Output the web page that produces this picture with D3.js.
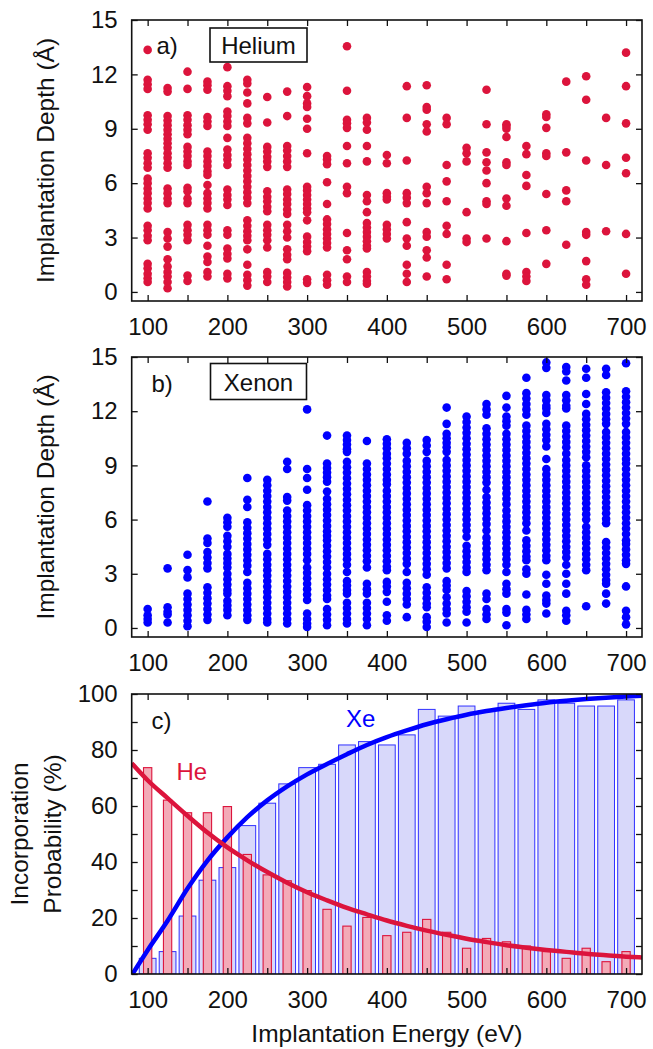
<!DOCTYPE html>
<html>
<head>
<meta charset="utf-8">
<script src="https://cdn.jsdelivr.net/npm/d3@7"></script>
<style>
  body { margin: 0; background: #fff; }
  svg { display: block; }
  text { font-family: "Liberation Sans", Arial, Helvetica, sans-serif; fill: #111; }
</style>
</head>
<body>
<svg id="fig" width="653" height="1049"></svg>
<script>
// Implantation energies (eV), one column of simulated impacts per energy
const energies = [100,125,150,175,200,225,250,275,300,325,350,375,400,425,450,475,500,525,550,575,600,625,650,675,700];

// Final depth (Å) of every incorporated He atom, grouped by energy
const heliumDepths = [
  [13.35,11.7,11.45,11.2,9.75,9.5,9.25,8.95,7.65,7.4,7.1,6.85,6.25,6.0,5.7,5.45,5.15,4.9,4.6,3.65,3.4,3.1,2.85,1.55,1.3,1.0,0.75,0.55],
  [11.25,11.05,9.7,9.45,9.2,8.95,8.7,8.45,8.2,7.95,7.65,7.4,7.1,6.85,5.7,5.45,5.15,4.9,3.3,2.95,2.5,1.8,1.4,1.1,0.85,0.55,0.2],
  [12.15,11.2,9.75,9.5,9.2,8.95,8.7,8.0,7.75,7.5,7.2,7.0,5.75,5.55,5.15,4.9,3.7,3.4,3.15,2.85,0.9,0.6],
  [11.6,11.4,11.15,9.65,9.4,9.15,7.75,7.5,7.2,6.95,6.65,6.45,5.9,5.45,5.15,4.9,4.6,3.7,3.4,3.15,2.55,1.95,1.65,1.1,0.85],
  [12.4,11.35,11.1,10.8,9.95,9.7,9.4,9.15,8.5,7.85,7.55,7.3,7.0,5.65,5.35,5.1,4.8,3.4,3.15,2.4,2.1,1.85,1.0,0.75],
  [11.7,11.5,11.0,10.4,9.6,9.3,8.5,8.2,7.9,7.6,7.3,7.0,6.7,6.4,6.1,5.8,5.5,5.2,4.9,3.95,3.65,3.35,3.1,2.85,2.35,1.5,0.95,0.65,0.35],
  [10.75,9.35,8.0,7.75,7.45,7.2,6.9,5.55,5.25,5.0,4.7,4.45,3.7,3.4,3.15,2.85,2.45,1.1,0.85,0.55],
  [11.05,9.7,8.05,7.8,7.5,7.2,6.9,5.65,5.4,5.1,4.85,4.55,4.3,3.7,3.35,3.0,2.35,2.05,1.8,1.05,0.8,0.55,0.3],
  [11.3,10.8,10.4,10.2,9.55,9.0,7.65,5.8,5.6,5.35,5.1,4.85,4.6,4.4,3.95,3.05,2.75,2.5,2.25,0.7,0.5],
  [7.5,7.3,7.05,6.05,4.85,4.0,3.75,3.45,3.2,2.95,2.7,2.45,0.95,0.65,0.4],
  [13.55,11.1,9.5,9.3,9.05,8.05,7.1,5.8,5.45,3.25,2.3,1.8,0.85,0.55],
  [9.6,9.35,8.95,8.05,7.2,5.35,5.0,4.4,3.8,3.55,3.3,3.05,2.8,2.55,2.4,1.1,0.85,0.6,0.45],
  [7.55,7.1,5.45,5.25,5.1,3.7,3.45,3.2,2.95],
  [11.35,9.6,7.25,5.45,5.2,4.9,3.85,2.95,2.55,1.5,1.0,0.55],
  [11.4,10.2,10.05,9.25,8.85,5.8,5.45,4.9,3.3,3.05,2.3,1.9,0.85],
  [9.6,9.25,7.0,6.1,5.0,3.65,3.2,1.5,0.7],
  [7.95,7.65,7.2,4.4,2.95,2.75],
  [11.15,9.25,7.7,7.15,6.7,6.0,5.0,4.85,2.95],
  [9.25,9.15,9.0,8.55,7.15,7.0,5.15,4.75,2.8,1.0,0.9],
  [8.05,7.6,6.45,5.85,3.25,1.1,0.85,0.6],
  [9.8,9.65,9.05,7.65,7.5,5.4,3.4,1.55],
  [11.6,7.7,5.6,5.0,2.6],
  [11.9,10.6,7.25,3.3,3.15,1.7,0.7,0.4],
  [9.6,7.0,3.35],
  [13.2,11.35,9.3,7.4,6.55,3.2,1.0]
];

// Final depth (Å) of every incorporated Xe atom, grouped by energy
const xenonDepths = [
  [1.05,0.7,0.5,0.3],
  [3.3,1.15,0.9,0.75,0.3],
  [4.05,3.2,2.8,1.9,1.6,1.3,1.0,0.7,0.4,0.1],
  [7.0,4.95,4.7,4.2,3.9,3.6,3.3,2.25,1.95,1.65,1.35,1.05,0.75,0.45],
  [6.1,5.85,5.6,5.1,4.8,4.5,4.1,3.85,3.6,3.35,3.0,2.7,2.4,2.1,1.9,1.5,1.25,1.0,0.7],
  [8.3,7.1,6.7,5.85,5.55,5.25,4.95,4.65,4.35,4.05,3.75,3.45,3.1,2.5,2.2,1.9,1.6,1.3,1.0,0.7,0.45],
  [8.2,7.9,7.6,7.3,7.0,6.7,6.4,6.1,5.8,5.5,5.2,4.9,4.6,4.1,3.8,3.5,3.2,2.9,2.6,2.3,2.0,1.7,1.4,1.1,0.8,0.5,0.3],
  [9.2,8.8,7.25,7.05,6.5,6.2,5.9,5.6,5.3,5.0,4.7,4.4,4.1,3.8,3.5,3.2,2.9,2.6,2.3,2.0,1.7,1.4,1.1,0.8,0.5,0.25],
  [12.1,8.8,8.3,7.65,6.8,6.5,6.2,5.9,5.6,5.3,5.0,4.7,4.4,4.1,3.75,3.35,3.05,2.75,2.45,2.15,1.85,1.55,0.8,0.5,0.25,0.05],
  [10.65,9.1,8.85,8.6,8.35,8.1,7.55,7.15,6.85,6.55,6.25,5.95,5.65,5.35,5.1,4.85,4.55,4.25,3.95,3.65,3.35,3.0,2.7,2.4,2.1,1.8,1.6,1.05,0.75,0.45,0.15],
  [10.65,10.4,10.15,9.9,9.75,9.2,8.9,8.6,8.3,8.0,7.7,7.4,7.1,6.8,6.5,6.2,5.9,5.6,5.3,5.0,4.7,4.4,4.1,3.8,3.5,3.1,2.6,2.35,2.1,1.9,1.4,1.1,0.8,0.5,0.25],
  [10.35,9.1,8.8,8.5,8.2,7.9,7.6,7.3,7.0,6.7,6.4,6.1,5.8,5.5,5.2,4.9,4.6,4.3,4.0,3.7,3.35,2.45,2.15,1.9,1.4,1.1,0.8,0.5,0.15],
  [10.45,10.2,9.95,9.65,9.4,9.1,8.8,8.5,8.2,7.95,7.6,7.3,7.0,6.7,6.4,6.1,5.8,5.5,5.2,4.9,4.6,4.3,4.0,3.7,3.4,3.2,2.55,2.3,2.0,1.45,0.7,0.4],
  [10.25,9.95,9.65,9.25,8.95,8.65,8.35,8.05,7.75,7.45,7.15,6.85,6.55,6.25,5.95,5.65,5.35,5.05,4.75,4.45,4.15,3.85,3.55,3.1,2.5,2.2,1.9,1.6,1.3,0.6],
  [10.4,10.1,9.75,9.25,8.95,8.65,8.35,8.05,7.75,7.45,7.15,6.85,6.55,6.25,5.95,5.65,5.35,5.05,4.75,4.45,4.15,3.85,3.55,3.25,2.95,2.25,1.95,1.65,1.35,1.15,0.6,0.35,0.05],
  [12.2,11.3,10.75,10.5,10.25,10.0,9.75,9.3,9.0,8.7,8.4,8.1,7.8,7.5,7.2,6.9,6.6,6.3,6.0,5.7,5.4,5.1,4.8,4.5,4.2,3.9,3.6,3.3,2.6,2.35,2.1,1.7,1.35,1.05,0.8,0.3],
  [11.7,11.4,11.1,10.8,10.5,10.2,9.9,9.6,9.3,9.0,8.7,8.4,8.1,7.8,7.5,7.2,6.9,6.6,6.3,6.0,5.7,5.4,5.05,4.55,4.25,3.95,3.65,3.35,3.1,2.05,1.75,1.45,1.15,0.9,0.3],
  [12.4,12.1,11.8,11.05,10.75,10.45,10.15,9.85,9.55,9.25,8.95,8.65,8.35,8.05,7.65,7.25,6.95,6.65,6.35,6.05,5.75,5.4,5.0,4.7,4.4,4.1,3.8,3.5,3.2,1.9,1.6,1.05,0.75,0.5],
  [12.85,12.2,11.7,11.45,11.2,10.75,10.45,10.15,9.85,9.55,9.25,8.95,8.65,8.35,8.05,7.75,7.45,7.15,6.85,6.5,6.2,5.9,5.6,5.3,5.0,4.7,4.4,4.1,3.8,3.5,3.1,2.45,2.15,1.9,1.05,0.85,0.15],
  [13.85,13.0,12.7,12.4,12.1,11.8,11.2,10.9,10.6,10.3,10.0,9.7,9.4,9.1,8.8,8.5,8.2,7.9,7.6,7.3,7.0,6.7,6.4,6.1,5.8,5.4,4.85,4.55,4.25,3.95,3.75,3.25,3.0,1.85,1.0,0.75,0.5],
  [14.7,14.4,12.9,12.6,12.3,12.15,11.9,11.3,11.0,10.7,10.4,10.05,9.35,8.8,8.5,8.2,7.9,7.6,7.3,7.0,6.7,6.4,6.1,5.8,5.5,5.2,4.9,4.6,4.3,4.0,3.75,2.95,2.45,1.8,1.55,1.35,0.8],
  [14.45,14.2,13.7,12.9,12.6,12.3,12.15,11.2,10.9,10.6,10.3,10.0,9.65,9.3,9.0,8.7,8.4,8.1,7.8,7.5,7.2,6.9,6.6,6.3,6.0,5.7,5.4,5.1,4.8,4.5,4.2,3.9,3.5,3.0,2.45,1.9,0.95,0.7,0.4],
  [14.35,13.85,12.95,12.4,11.85,11.55,11.25,10.95,10.65,10.35,10.05,9.75,9.45,9.0,8.7,8.4,8.1,7.8,7.5,7.2,6.9,6.6,6.3,6.0,5.6,5.3,5.0,4.7,4.4,4.1,3.8,3.5,3.2,1.2],
  [14.35,14.0,13.05,12.75,12.45,12.15,11.85,11.55,11.3,10.85,10.55,10.25,9.95,9.65,9.35,9.05,8.75,8.45,8.15,7.85,7.55,7.25,6.95,6.65,6.35,6.05,5.8,4.75,4.45,4.15,3.85,3.55,3.25,2.95,2.65,2.45,1.9,1.35],
  [14.65,13.1,12.8,12.5,12.2,11.9,11.6,11.3,10.85,10.55,10.25,9.95,9.65,9.35,9.1,8.8,8.5,8.2,7.9,7.6,7.3,7.0,6.7,6.4,6.1,5.8,5.5,5.2,4.85,4.65,4.35,4.05,3.75,3.55,2.3,0.95,0.6,0.2]
];

// Incorporation probability (%) per energy
const xeProbability = [5.6,8.0,20.7,33.5,38.0,53.0,61.0,67.9,73.7,74.9,81.8,83.0,81.8,85.4,94.5,92.1,95.7,94.0,96.7,94.5,97.9,96.7,95.7,95.7,97.9];
const heProbability = [73.7,62.1,57.6,57.6,59.8,42.7,35.4,33.3,29.8,23.1,17.1,20.2,13.7,14.9,19.5,14.9,9.2,12.7,11.5,10.0,8.0,5.6,9.2,4.4,8.0];

// Fitted trend curves (energy in eV, probability in %)
const xeFitEnergy = [81,100,125,150,175,200,225,250,275,300,325,350,375,400,425,450,475,500,525,550,575,600,625,650,675,700,720];
const xeFitValue  = [0,8.5,19,30.5,40.5,48.8,56,62,67,71.3,75,78.5,81.8,84.6,87,89.2,91,92.6,93.9,95,96,96.9,97.6,98.2,98.7,99.1,99.4];
const heFitEnergy = [80,100,125,150,175,200,225,250,275,300,325,350,375,400,425,450,475,500,525,550,575,600,625,650,675,700,720];
const heFitValue  = [75.3,69.2,62.8,56.5,50.5,45.2,40.6,36.4,32.6,29.2,26.3,23.6,21.3,19.1,17.2,15.5,14.0,12.6,11.4,10.3,9.4,8.6,7.9,7.2,6.7,6.2,5.9];

// Axis tick values
const energyTicks = [100,150,200,250,300,350,400,450,500,550,600,650,700];
const depthTicks = [0,3,6,9,12,15];
const probabilityTicks = [0,10,20,30,40,50,60,70,80,90,100];

const HE_COLOR = "#dc143c";
const XE_COLOR = "#0000ff";
const FONT = 24;

const svg = d3.select("#fig");
const left = 131.7, right = 642;
const x = d3.scaleLinear().domain([80, 720]).range([left, right]);

const panels = {
  a: { top: 20,  bottom: 301 },
  b: { top: 357, bottom: 637 },
  c: { top: 694, bottom: 974 }
};

function drawAxes(p, y, yTicks, yLabelEvery) {
  const g = svg.append("g");
  const style = sel => {
    sel.select(".domain").remove();
    sel.selectAll(".tick line").attr("stroke", "#111").attr("stroke-width", 1.3);
    sel.selectAll(".tick text")
      .attr("font-size", FONT)
      .attr("font-family", '"Liberation Sans", Arial, sans-serif')
      .attr("fill", "#111");
  };
  g.append("g").attr("transform", `translate(0,${p.bottom})`)
    .call(d3.axisBottom(x).tickValues(energyTicks).tickSize(-6).tickSizeOuter(0).tickPadding(17)
      .tickFormat(d => d % 100 === 0 ? d : ""))
    .call(style);
  g.append("g").attr("transform", `translate(0,${p.top})`)
    .call(d3.axisTop(x).tickValues(energyTicks).tickSize(-6).tickSizeOuter(0).tickFormat(""))
    .call(style);
  g.append("g").attr("transform", `translate(${left},0)`)
    .call(d3.axisLeft(y).tickValues(yTicks).tickSize(-6).tickSizeOuter(0).tickPadding(14)
      .tickFormat(d => d % yLabelEvery === 0 ? d : ""))
    .call(style);
  g.append("g").attr("transform", `translate(${right},0)`)
    .call(d3.axisRight(y).tickValues(yTicks).tickSize(-6).tickSizeOuter(0).tickFormat(""))
    .call(style);
  g.append("rect")
    .attr("x", left).attr("y", p.top)
    .attr("width", right - left).attr("height", p.bottom - p.top)
    .attr("fill", "none").attr("stroke", "#111").attr("stroke-width", 1.6);
}

function drawScatter(p, depths, color) {
  const y = d3.scaleLinear().domain([-0.5, 15]).range([p.bottom, p.top]);
  const pts = [];
  energies.forEach((e, i) => depths[i].forEach(d => pts.push([e, d])));
  svg.append("g").selectAll("circle").data(pts).join("circle")
    .attr("cx", d => x(d[0])).attr("cy", d => y(d[1]))
    .attr("r", 4.3).attr("fill", color);
  drawAxes(p, y, depthTicks, 3);
  return y;
}

function yTitle(lines, cx, cy) {
  lines.forEach(([txt, bx]) => {
    svg.append("text")
      .attr("transform", `translate(${bx},${cy}) rotate(-90)`)
      .attr("text-anchor", "middle")
      .attr("font-size", 24.5)
      .text(txt);
  });
}

function label(txt, xPos, yPos, opts = {}) {
  return svg.append("text")
    .attr("x", xPos).attr("y", yPos)
    .attr("font-size", opts.size || FONT)
    .attr("text-anchor", opts.anchor || "start")
    .style("fill", opts.color || "#111")
    .text(txt);
}

function boxedLabel(txt, bx, by, bw, bh) {
  svg.append("rect").attr("x", bx).attr("y", by).attr("width", bw).attr("height", bh)
    .attr("fill", "#fff").attr("stroke", "#111").attr("stroke-width", 1.6);
  label(txt, bx + bw / 2, by + bh - 8.5, { anchor: "middle" });
}

// (a) Helium depth distribution
drawScatter(panels.a, heliumDepths, HE_COLOR);
label("a)", 156.5, 54);
boxedLabel("Helium", 210, 28, 97, 34);
yTitle([["Implantation Depth (Å)", 54]], 0, (panels.a.top + panels.a.bottom) / 2);

// (b) Xenon depth distribution
drawScatter(panels.b, xenonDepths, XE_COLOR);
label("b)", 151.5, 391.5);
boxedLabel("Xenon", 210.5, 363.5, 96, 36);
yTitle([["Implantation Depth (Å)", 54]], 0, (panels.b.top + panels.b.bottom) / 2);

// (c) Incorporation probability
const pc = panels.c;
const yc = d3.scaleLinear().domain([0, 100]).range([pc.bottom, pc.top]);

svg.append("clipPath").attr("id", "clip-c").append("rect")
  .attr("x", left).attr("y", pc.top).attr("width", right - left).attr("height", pc.bottom - pc.top);

const barsG = svg.append("g").attr("clip-path", "url(#clip-c)");
barsG.selectAll("rect.xe").data(energies).join("rect").attr("class", "xe")
  .attr("x", e => x(e - 10.5)).attr("width", e => x(e + 10.5) - x(e - 10.5))
  .attr("y", (e, i) => yc(xeProbability[i])).attr("height", (e, i) => yc(0) - yc(xeProbability[i]))
  .attr("fill", "#d8d8fa").attr("stroke", "#3030ff").attr("stroke-width", 1);
barsG.selectAll("rect.he").data(energies).join("rect").attr("class", "he")
  .attr("x", e => x(e - 5.2)).attr("width", e => x(e + 5.2) - x(e - 5.2))
  .attr("y", (e, i) => yc(heProbability[i])).attr("height", (e, i) => yc(0) - yc(heProbability[i]))
  .attr("fill", "#f3aab7").attr("stroke", HE_COLOR).attr("stroke-width", 1.1);

const fitLine = d3.line().x(d => x(d[0])).y(d => yc(d[1])).curve(d3.curveMonotoneX);
barsG.append("path").datum(xeFitEnergy.map((e, i) => [e, xeFitValue[i]]))
  .attr("d", fitLine).attr("fill", "none").attr("stroke", XE_COLOR).attr("stroke-width", 4.5);
barsG.append("path").datum(heFitEnergy.map((e, i) => [e, heFitValue[i]]))
  .attr("d", fitLine).attr("fill", "none").attr("stroke", HE_COLOR).attr("stroke-width", 4.5);

drawAxes(pc, yc, probabilityTicks, 20);
label("c)", 151.5, 728.5);
label("He", 176.5, 780, { color: HE_COLOR });
label("Xe", 346, 727, { color: XE_COLOR });
yTitle([["Incorporation", 28], ["Probability (%)", 61]], 0, (pc.top + pc.bottom) / 2);

// shared x-axis title
label("Implantation Energy (eV)", (left + right) / 2, 1042, { anchor: "middle", size: 24.5 });
</script>
</body>
</html>
